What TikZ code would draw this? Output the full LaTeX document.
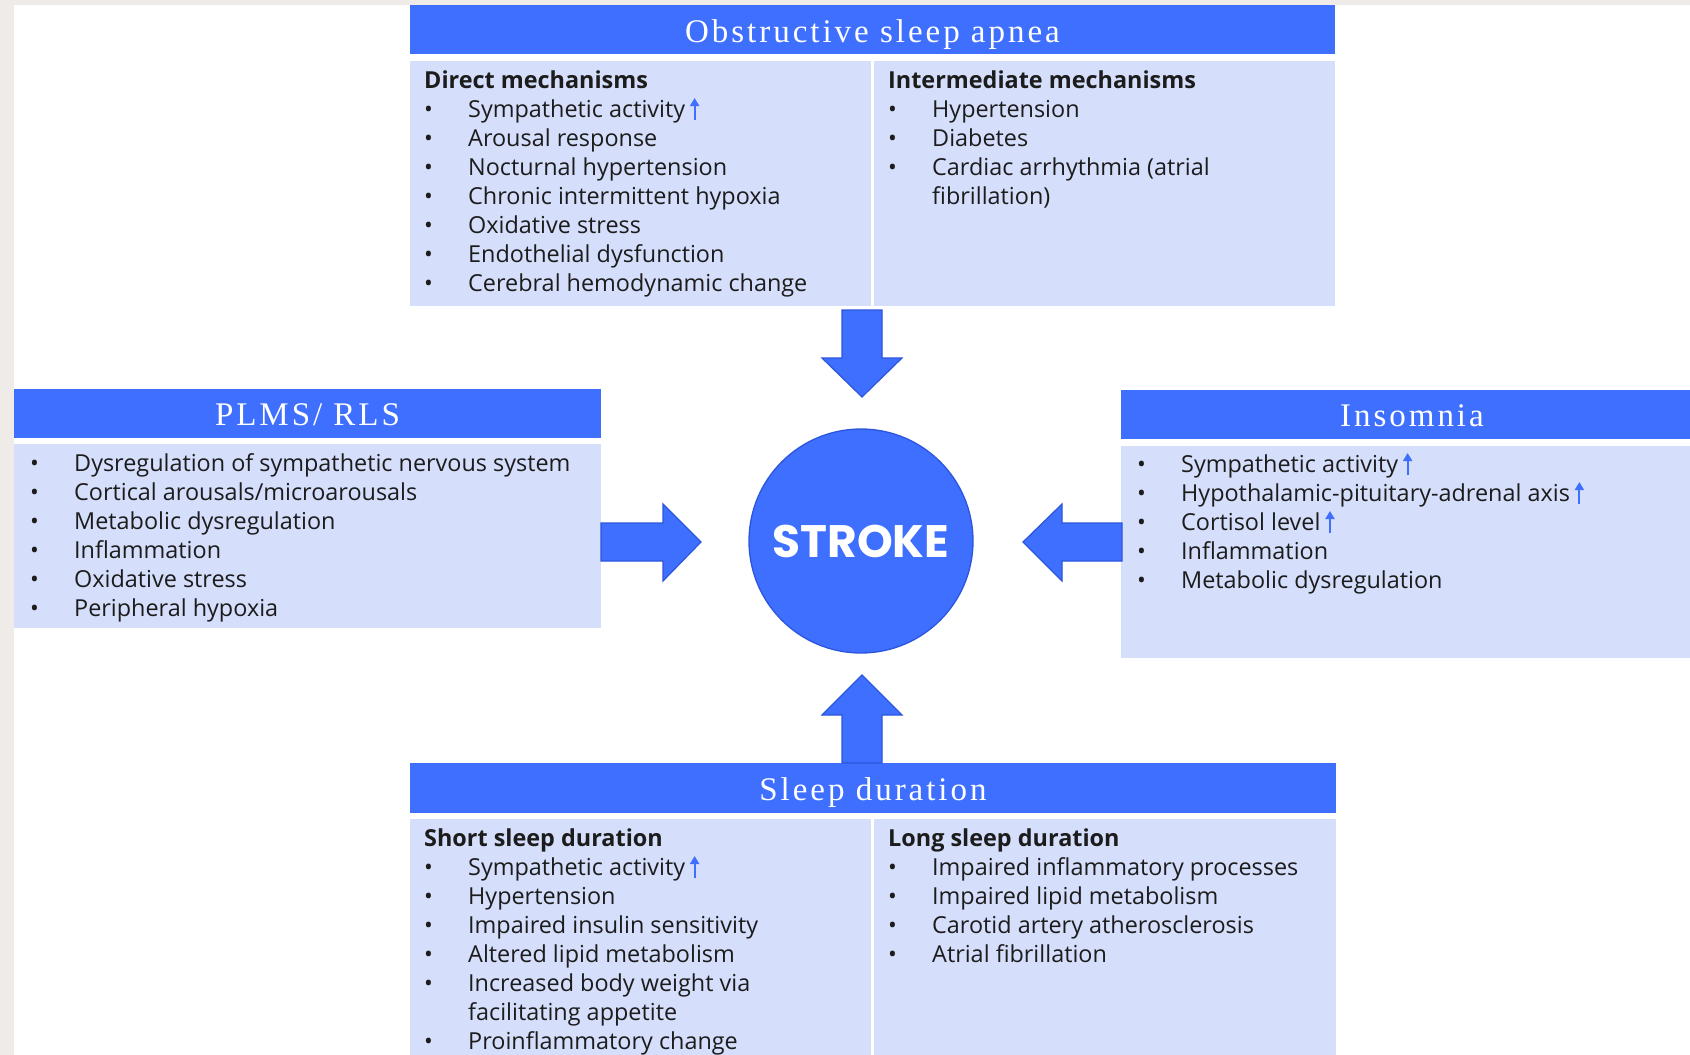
\documentclass[tikz,border=0pt]{standalone}
\usepackage{fontspec}
\setmainfont{Open Sans}
\newfontfamily\headfont[LetterSpace=9]{Liberation Serif}
\newfontfamily\strokefont{Poppins}
\usetikzlibrary{arrows.meta}
\definecolor{hblue}{HTML}{3F6FFF}
\definecolor{bblue}{HTML}{2C55DD}
\definecolor{lblue}{HTML}{D5DEFA}
\definecolor{edgegray}{HTML}{EFEBE8}
\definecolor{ink}{HTML}{1C1C1C}
\newcommand\upa{\hspace{5pt}\tikz[baseline=0pt]\draw[draw=hblue, line width=2pt, -{Triangle[length=8pt,width=9pt]}] (0pt,-3pt) -- (0pt,19pt);}
\newcommand\bl[1]{\begin{tabular}[t]{@{}p{44pt}@{}l@{}}#1\end{tabular}}
\newcommand\hd[1]{\multicolumn{2}{@{}l@{}}{\bfseries #1}}
\tikzset{
  headbar/.style={fill=hblue},
  bodybox/.style={fill=lblue},
  headtext/.style={anchor=base, text=white, inner sep=0pt, font=\headfont\fontsize{33}{38}\selectfont},
  txt/.style={anchor=base west, inner sep=0pt, text=ink, font=\fontsize{23.4}{29}\selectfont},
  blockarrow/.style={fill=hblue, draw=bblue, line width=1.2pt, line join=miter},
}
\begin{document}
\begin{tikzpicture}[x=1pt,y=-1pt]
\useasboundingbox (0,0) rectangle (1690,1055);
\fill[white] (0,0) rectangle (1690,1055);
\fill[edgegray] (0,0) rectangle (1690,5);
\fill[edgegray] (0,0) rectangle (14,1055);

% Obstructive sleep apnea
\fill[headbar] (410,5) rectangle (1335,54);
\fill[bodybox] (410,61) rectangle (871,306);
\fill[bodybox] (874,61) rectangle (1335,306);
\node[headtext] (osaT) at (872.5,42) {Obstructive sleep apnea};
\node[txt] (osaL) at (424,88) {\bl{\hd{Direct mechanisms}\\
\textbullet & Sympathetic activity\upa\\
\textbullet & Arousal response\\
\textbullet & Nocturnal hypertension\\
\textbullet & Chronic intermittent hypoxia\\
\textbullet & Oxidative stress\\
\textbullet & Endothelial dysfunction\\
\textbullet & Cerebral hemodynamic change}};
\node[txt] (osaR) at (888,88) {\bl{\hd{Intermediate mechanisms}\\
\textbullet & Hypertension\\
\textbullet & Diabetes\\
\textbullet & Cardiac arrhythmia (atrial\\
 & fibrillation)}};

% PLMS / RLS
\fill[headbar] (14,389) rectangle (601,438);
\fill[bodybox] (14,444) rectangle (601,628);
\node[headtext] (plmsT) at (307.5,425) {PLMS/ RLS};
\node[txt] (plmsL) at (30,471) {\bl{\textbullet & Dysregulation of sympathetic nervous system\\
\textbullet & Cortical arousals/microarousals\\
\textbullet & Metabolic dysregulation\\
\textbullet & Inflammation\\
\textbullet & Oxidative stress\\
\textbullet & Peripheral hypoxia}};

% Insomnia
\fill[headbar] (1121,390) rectangle (1690,439);
\fill[bodybox] (1121,446) rectangle (1690,658);
\node[headtext] (insT) at (1412,426) {Insomnia};
\node[txt] (insL) at (1137,472) {\bl{\textbullet & Sympathetic activity\upa\\
\textbullet & Hypothalamic-pituitary-adrenal axis\upa\\
\textbullet & Cortisol level\upa\\
\textbullet & Inflammation\\
\textbullet & Metabolic dysregulation}};

% Sleep duration
\fill[headbar] (410,763) rectangle (1336,813);
\fill[bodybox] (410,819) rectangle (871,1055);
\fill[bodybox] (874,819) rectangle (1336,1055);
\node[headtext] (sdT) at (873,800) {Sleep duration};
\node[txt] (sdL) at (424,846) {\bl{\hd{Short sleep duration}\\
\textbullet & Sympathetic activity\upa\\
\textbullet & Hypertension\\
\textbullet & Impaired insulin sensitivity\\
\textbullet & Altered lipid metabolism\\
\textbullet & Increased body weight via\\
 & facilitating appetite\\
\textbullet & Proinflammatory change}};
\node[txt] (sdR) at (888,846) {\bl{\hd{Long sleep duration}\\
\textbullet & Impaired inflammatory processes\\
\textbullet & Impaired lipid metabolism\\
\textbullet & Carotid artery atherosclerosis\\
\textbullet & Atrial fibrillation}};

% Stroke
\node[circle, minimum size=224pt, inner sep=0pt, fill=hblue, draw=bblue, line width=1.3pt, text=white, font=\strokefont\bfseries\fontsize{45.5}{46}\selectfont] (stroke) at (861,541) {STROKE};

% block arrows
\draw[blockarrow] (842,310) -- (882,310) -- (882,358) -- (902,358) -- (862,397) -- (822,358) -- (842,358) -- cycle;
\draw[blockarrow] (842,763) -- (882,763) -- (882,715) -- (902,715) -- (862,675) -- (822,715) -- (842,715) -- cycle;
\draw[blockarrow] (601,523) -- (663,523) -- (663,504) -- (701,542) -- (663,581) -- (663,561) -- (601,561) -- cycle;
\draw[blockarrow] (1122,523) -- (1062,523) -- (1062,504) -- (1023,542) -- (1062,581) -- (1062,561) -- (1122,561) -- cycle;
\end{tikzpicture}
\end{document}
